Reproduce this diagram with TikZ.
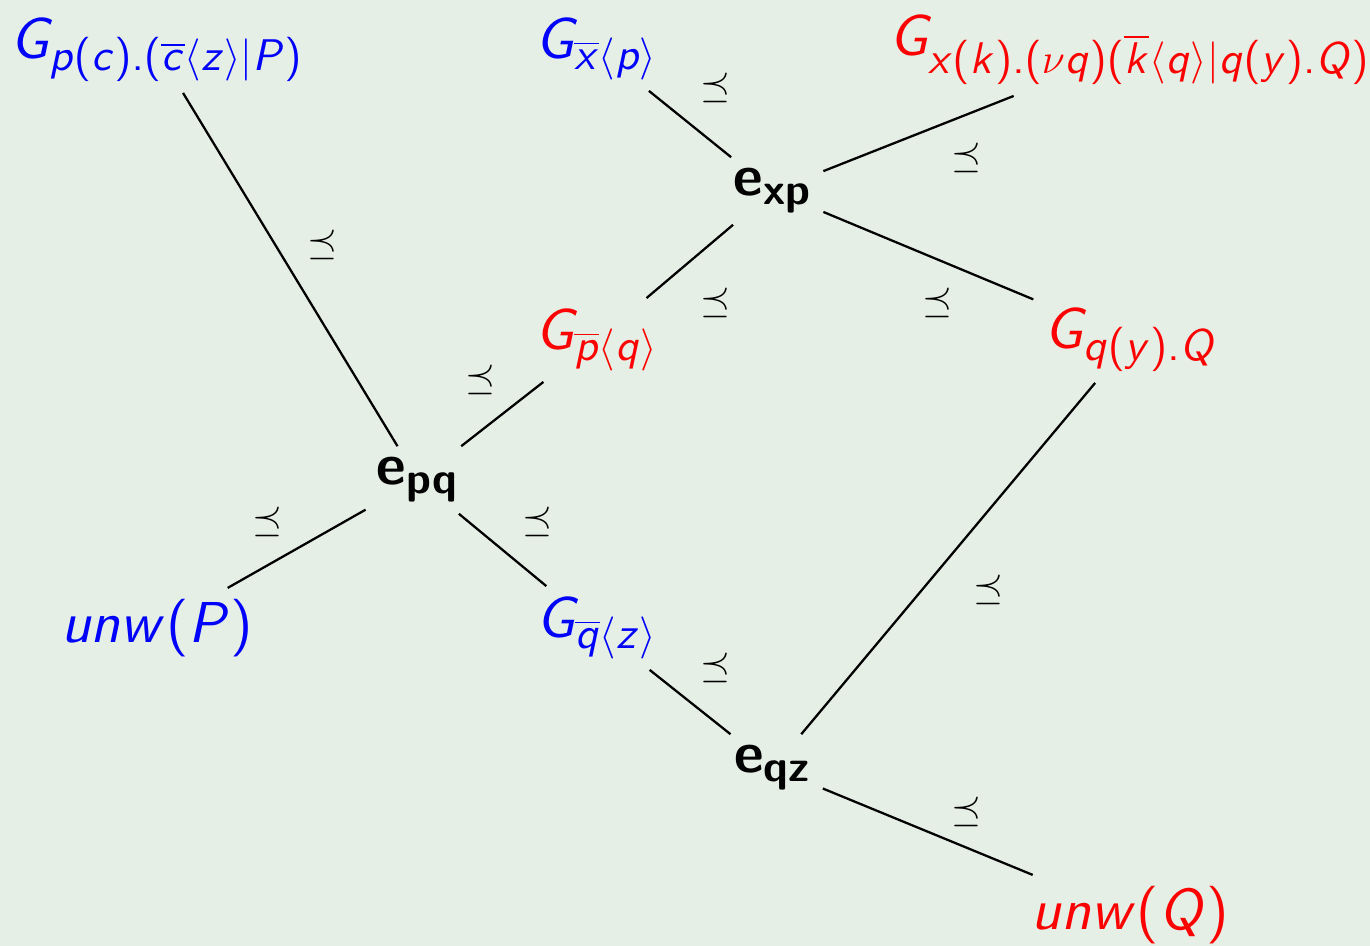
\documentclass[tikz,border=0pt]{standalone}
\usepackage{amsmath}
\usetikzlibrary{positioning}
% sans slanted letters for the terms, scaled freely
\DeclareFontFamily{OT1}{cmss}{\hyphenchar\font45 }
\DeclareFontShape{OT1}{cmss}{m}{n}{<-> cmss10}{}
\DeclareFontShape{OT1}{cmss}{m}{sl}{<-> cmssi10}{}
\SetSymbolFont{letters}{normal}{OT1}{cmss}{m}{sl}
\SetSymbolFont{operators}{normal}{OT1}{cmss}{m}{n}
\DeclareSymbolFont{oldletters}{OML}{cmm}{m}{it}
\DeclareMathSymbol{.}{\mathord}{operators}{"2E}
\DeclareMathSymbol{\nu}{\mathord}{oldletters}{"17}
\DeclareMathSizes{16.4}{16.4}{12.6}{9}
\definecolor{bgmint}{HTML}{E6EFE6}
\definecolor{termblue}{HTML}{0000FF}
\definecolor{termred}{HTML}{FF0000}
\tikzset{
  term/.style={font={\fontsize{16.4}{20}\selectfont},inner sep=3pt},
  ev/.style={font={\fontsize{16.4}{20}\selectfont\sffamily},inner sep=3pt},
  rel/.style={font={\fontsize{11}{13}\selectfont},inner sep=0pt},
  link/.style={line width=0.65pt}
}
\begin{document}
\begin{tikzpicture}[x=0.01cm,y=-0.01cm]
\useasboundingbox (0,0) rectangle (1370,946);\fill[bgmint] (0,0) rectangle (1370,946);
% process terms
\node[term,termblue] (gpc) at (157,50) {$G_{p(c).(\overline{c}\langle z\rangle|P)}$};
\node[term,termblue] (gxbar) at (597,49) {$G_{\overline{x}\langle p\rangle}$};
\node[term,termred] (gxk) at (1130,50) {$G_{x(k).(\nu q)(\overline{k}\langle q\rangle|q(y).Q)}$};
\node[term,termred] (gpbar) at (597,340) {$G_{\overline{p}\langle q\rangle}$};
\node[term,termred] (gqy) at (1131,340) {$G_{q(y).Q}$};
\node[term,termblue] (unwp) at (157,628) {$unw(P)$};
\node[term,termblue] (gqbar) at (597,628) {$G_{\overline{q}\langle z\rangle}$};
\node[term,termred] (unwq) at (1130,915) {$unw(Q)$};
% events
\node[ev] (nxp) at (773,191) {$\textbf{e}_{\textbf{xp}}$};
\node[ev] (npq) at (418,480) {$\textbf{e}_{\textbf{pq}}$};
\node[ev] (nqz) at (773,768) {$\textbf{e}_{\textbf{qz}}$};
% links
\draw[link] (gpc)--(npq); \draw[link] (gxbar)--(nxp); \draw[link] (nxp)--(gxk);
\draw[link] (nxp)--(gpbar); \draw[link] (nxp)--(gqy); \draw[link] (npq)--(gpbar);
\draw[link] (npq)--(unwp); \draw[link] (npq)--(gqbar); \draw[link] (gqbar)--(nqz);
\draw[link] (gqy)--(nqz); \draw[link] (nqz)--(unwq);
% order marks
\node[rel] (r1) at (322,245) {$\preceq$};\node[rel] (r2) at (715,88) {$\preceq$};
\node[rel] (r3) at (966,158) {$\preceq$};\node[rel] (r4) at (715,303) {$\preceq$};
\node[rel] (r5) at (937,303) {$\preceq$};\node[rel] (r6) at (480,380) {$\preceq$};
\node[rel] (r7) at (267,522) {$\preceq$};\node[rel] (r8) at (537,522) {$\preceq$};
\node[rel] (r9) at (715,668) {$\preceq$};\node[rel] (r10) at (988,590) {$\preceq$};
\node[rel] (r11) at (966,812) {$\preceq$};
\end{tikzpicture}
\end{document}
